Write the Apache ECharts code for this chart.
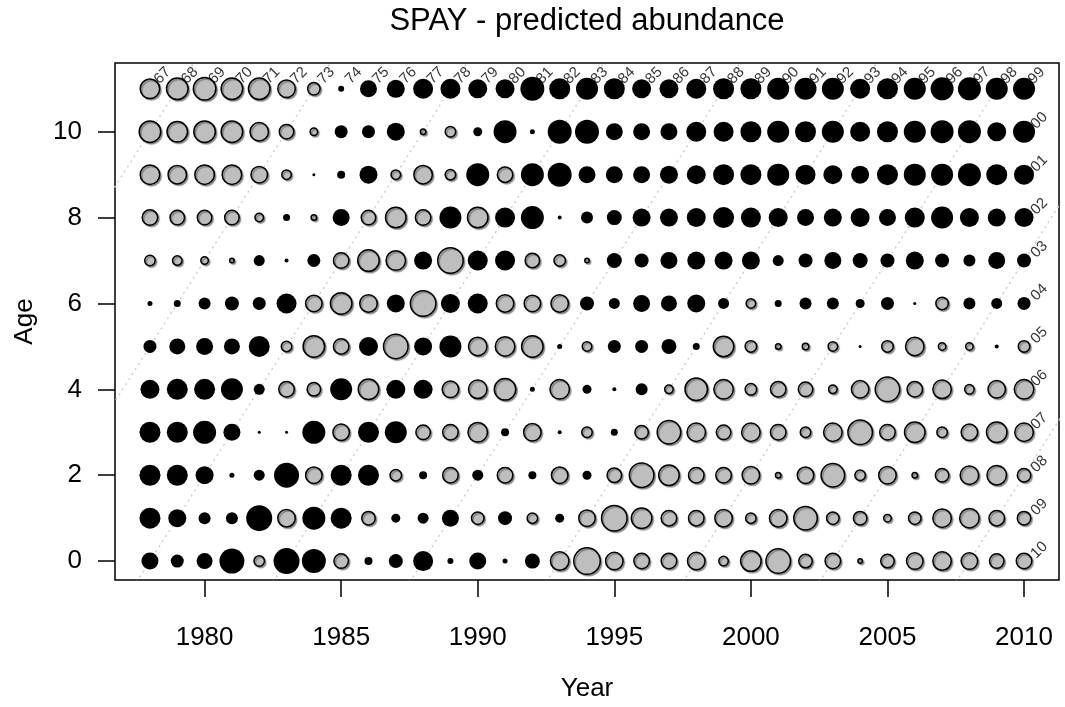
<!DOCTYPE html>
<html><head><meta charset="utf-8">
<script src="https://cdn.jsdelivr.net/npm/echarts@6/dist/echarts.min.js"></script>
<style>html,body{margin:0;padding:0;background:#fff}#c{width:1065px;height:707px}</style>
</head><body><div id="c"></div>
<script>
const chartTitle = 'SPAY - predicted abundance';
const years = [1978,1979,1980,1981,1982,1983,1984,1985,1986,1987,1988,1989,1990,1991,1992,1993,1994,1995,1996,1997,1998,1999,2000,2001,2002,2003,2004,2005,2006,2007,2008,2009,2010];
const ages = [0,1,2,3,4,5,6,7,8,9,10,11];
const xTicks = [1980,1985,1990,1995,2000,2005,2010];
const yTicks = [0,2,4,6,8,10];
const cohortLines = [1968,1973,1978,1983,1988,1993,1998,2003,2008];

// signed bubble magnitudes per age (positive = grey, negative = black), years 1978..2010
const age0  = [-17,-13,-16,-25,12,-26,-24,16,-8, -14,-20,-6,-17,-5,-15,20,28,19, 17,17,19,11,22,26,15,17, 6,15,18,20,18,16,17];
const age1  = [-21,-18,-12,-12,-26,19,-23,-21,15, -9,-11,-17,14,-14,12,-9,18,27, 22,17,17,19,12,19,25,14, 15,9,14,20,21,17,15];
const age2  = [-21,-21,-18,-5,-11,-25,18,-21,-21, 13,-8,17,-11,17,-8,18,-9,16, 26,22,17,17,19,7,18,25, 12,19,7,15,20,21,15];
const age3  = [-21,-21,-23,-17,-3,-3,-23,18,-21, -22,16,17,21,-8,19,-4,12,-7, 15,25,20,16,20,17,12,20, 26,17,22,12,18,22,20];
const age4  = [-19,-21,-21,-22,-11,17,15,-22,22, -19,-19,18,20,23,-5,21,-9,-4, -12,10,24,21,13,17,16,10, 19,26,17,20,11,19,21];
const age5  = [-13,-16,-17,-16,-21,12,23,17,-19, 26,-18,-22,20,21,23,-5,11,-13, -13,-15,-7,22,13,7,8,11, -3,13,20,9,9,-4,13];
const age6  = [-5,-7,-12,-14,-13,-20,18,23,19, -18,27,-19,-20,19,18,19,-14,-11, -17,-16,-18,-11,11,-7,-12,-12, -9,-13,-3,14,-12,-11,-13];
const age7  = [12,11,9,6,-11,-4,-13,17,23, 21,-18,27,-20,-20,16,13,6,-15, -14,-17,-18,-18,-18,-11,-14,-17, -15,-14,-18,-14,-12,-17,-14];
const age8  = [17,16,16,16,10,-7,7,-17,16, 22,17,-22,22,-20,-23,-4,-12,-15, -18,-18,-19,-21,-20,-19,-17,-18, -19,-17,-20,-22,-19,-18,-19];
const age9  = [21,20,21,21,18,11,-3,-8,-18, 11,20,12,-23,17,-23,-24,-17,-17, -17,-18,-19,-21,-21,-22,-20,-19, -18,-21,-22,-22,-23,-21,-20];
const age10 = [23,22,23,23,20,16,9,-13,-13, -18,7,12,-9,-23,-5,-24,-24,-17, -17,-17,-20,-20,-21,-22,-21,-22, -20,-21,-22,-23,-23,-19,-22];
const age11 = [21,23,24,23,23,19,14,-6,-17, -18,-20,-20,-19,-19,-24,-21,-22,-21, -19,-19,-20,-21,-21,-22,-22,-22, -20,-21,-22,-23,-23,-22,-22];

const rows = [age0,age1,age2,age3,age4,age5,age6,age7,age8,age9,age10,age11];
const X_MIN = 1976.72, X_MAX = 2011.28, Y_MIN = -0.44, Y_MAX = 11.6;
const FONT = 'Liberation Sans, Arial, Helvetica, sans-serif';

const grey = [], black = [];
rows.forEach((row, a) => row.forEach((v, i) => {
  (v > 0 ? grey : black).push([years[i], ages[a], v]);
}));

const pad = n => String(n % 100).padStart(2, '0');
const lastYear = years[years.length - 1];
const topAge = ages[ages.length - 1];
const LDX = 0.24, LDY = 0.17;
const labelData = [];
years.forEach(y => labelData.push({ value: [y + LDX, topAge + LDY], name: pad(y - topAge) }));
for (let a = topAge - 1; a >= 0; a--) labelData.push({ value: [lastYear + LDX + 0.1, a + LDY - 0.05], name: pad(lastYear - a) });

const lineSeries = cohortLines.map(c => ({
  type: 'line', data: [[c + Y_MIN - 1, Y_MIN - 1], [c + Y_MAX + 1, Y_MAX + 1]],
  symbol: 'none', clip: true, silent: true, z: 1,
  lineStyle: { color: '#cfcfcf', width: 1.5, type: [2, 4] }
}));

const chart = echarts.init(document.getElementById('c'), null, { renderer: 'canvas' });
chart.setOption({
  animation: false,
  backgroundColor: '#fff',
  graphic: [{
    type: 'text', x: 587, y: 21,
    style: { text: chartTitle, fontSize: 31, fontFamily: FONT, fill: '#000', textAlign: 'center', textVerticalAlign: 'middle' }
  }],
  grid: { left: 115, right: 6, top: 63, bottom: 124, show: true, borderColor: '#000', borderWidth: 1.5, backgroundColor: 'transparent' },
  xAxis: {
    type: 'value', min: X_MIN, max: X_MAX,
    axisLine: { show: false, onZero: false }, splitLine: { show: false },
    axisTick: { show: true, customValues: xTicks, length: 17, lineStyle: { color: '#000', width: 1.5 } },
    axisLabel: { customValues: xTicks, fontSize: 26, color: '#000', margin: 45, fontFamily: FONT, formatter: v => String(v) },
    name: 'Year', nameLocation: 'middle', nameGap: 96,
    nameTextStyle: { fontSize: 26, color: '#000', fontFamily: FONT }
  },
  yAxis: {
    type: 'value', min: Y_MIN, max: Y_MAX,
    axisLine: { show: false, onZero: false }, splitLine: { show: false },
    axisTick: { show: true, customValues: yTicks, length: 17, lineStyle: { color: '#000', width: 1.5 } },
    axisLabel: { customValues: yTicks, fontSize: 26, color: '#000', margin: 33, fontFamily: FONT, formatter: v => String(v) },
    name: 'Age', nameLocation: 'middle', nameGap: 77, nameRotate: 90,
    nameTextStyle: { fontSize: 26, color: '#000', fontFamily: FONT }
  },
  series: [
    ...lineSeries,
    {
      type: 'scatter', data: grey, z: 3, silent: true,
      symbolSize: d => Math.max(Math.abs(d[2]) - 1.5, 1),
      itemStyle: { color: '#bebebe', borderColor: '#000', borderWidth: 1.5, opacity: 1,
        shadowColor: 'rgba(0,0,0,0.35)', shadowBlur: 1, shadowOffsetX: 1.5, shadowOffsetY: 1.5 }
    },
    {
      type: 'scatter', data: black, z: 3, silent: true,
      symbolSize: d => Math.abs(d[2]),
      itemStyle: { color: '#000', opacity: 1 }
    },
    {
      type: 'scatter', data: labelData, z: 4, silent: true, symbolSize: 0,
      label: { show: true, position: 'inside', formatter: p => p.name, rotate: 45, align: 'left', verticalAlign: 'middle',
        fontSize: 15, color: '#000', fontFamily: FONT }
    }
  ]
});
</script></body></html>
